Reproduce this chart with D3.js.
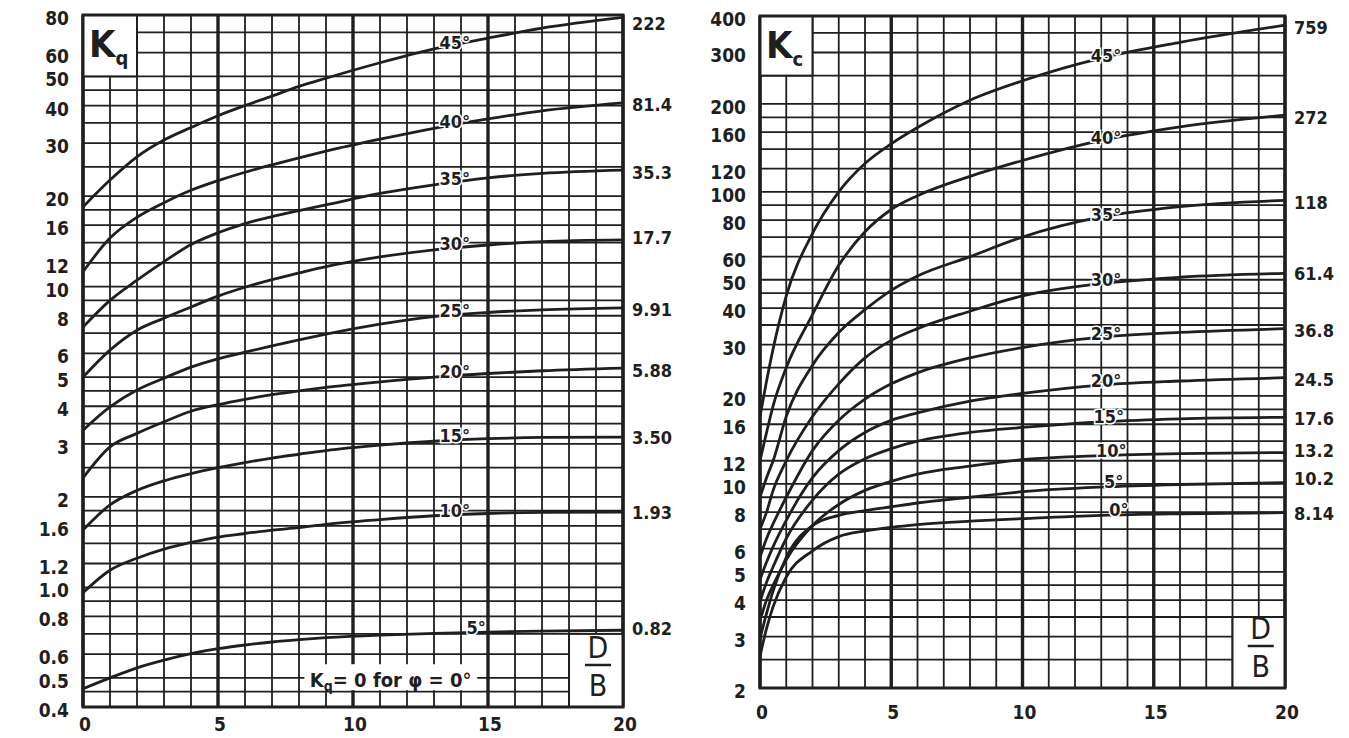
<!DOCTYPE html>
<html><head><meta charset="utf-8">
<script src="https://cdn.jsdelivr.net/npm/d3@7"></script>
<style>body{margin:0;background:#fff}svg{display:block}</style>
</head><body>
<svg id="c" width="1349" height="738"></svg>
<script>
// ---------- data ----------
const angles = ["45°","40°","35°","30°","25°","20°","15°","10°","5°","0°"];
// Kq panel (D/B values where curves were read)
const xq = [0,1,2,3,4,5,6,7,8,9,11,13,15,17,20];
const kq45 = [18.4,22.6,27,30.7,33.8,37,40,43,46.3,49.3,55.5,61.7,67,72.3,78.5];
const kq40 = [11.2,14.5,17,19,20.9,22.5,24.0,25.4,26.8,28.2,30.9,33.6,36.1,38.4,40.8];
const kq35 = [7.33,9.0,10.5,12.1,13.8,15.1,16.2,17.1,17.9,18.7,20.4,21.8,23.0,23.8,24.4];
const kq30 = [5.0,6.15,7.16,7.85,8.55,9.3,9.95,10.55,11.1,11.65,12.55,13.25,13.75,14.1,14.3];
const kq25 = [3.33,3.98,4.53,4.96,5.4,5.75,6.05,6.35,6.65,6.95,7.5,7.95,8.2,8.37,8.5];
const kq20 = [2.31,2.93,3.25,3.55,3.85,4.05,4.22,4.37,4.5,4.62,4.82,5.0,5.14,5.25,5.36];
const kq15 = [1.55,1.88,2.1,2.26,2.39,2.5,2.6,2.69,2.77,2.85,2.97,3.06,3.12,3.15,3.16];
const kq10 = [0.96,1.14,1.25,1.34,1.41,1.47,1.51,1.55,1.58,1.62,1.68,1.73,1.76,1.775,1.78];
const kq5  = [0.46,0.50,0.54,0.573,0.602,0.625,0.643,0.658,0.67,0.68,0.694,0.703,0.71,0.715,0.72];
const kqInf = ["222","81.4","35.3","17.7","9.91","5.88","3.50","1.93","0.82"];

// Kc panel
const xc = [0,0.25,0.5,1,2,3,4,5,6,8,10,13,16,20];
const kc45 = [17,22.5,29,44,72,100,125,146,166,206,240,287,325,372];
const kc40 = [12,15,18.5,25,38,56,73,87,97,113,128,150,167,183];
const kc35 = [9,10.5,12,17,25.5,33,39.5,46,51.5,60,70,82,89,93.5];
const kc30 = [7,8,9.5,12,17,22,27,31,34,39,44,48.5,51,52.6];
const kc25 = [5.6,6.5,7.3,9,13,16.5,19.5,22,24,27,29.3,31.8,33,34];
const kc20 = [4.7,5.4,6.1,7.5,10.5,13,15,16.5,17.5,19.2,20.4,21.8,22.5,23.1];
const kc15 = [3.95,4.6,5.2,6.5,8.8,10.8,12.2,13.2,14,15,15.6,16.3,16.7,16.9];
const kc10 = [3.4,4.0,4.5,5.5,7.2,8.5,9.5,10.2,10.8,11.5,12.1,12.5,12.7,12.8];
const kc5  = [2.95,3.6,4.3,5.6,7.2,7.8,8.1,8.35,8.6,9.0,9.4,9.75,9.95,10.1];
const kc0  = [2.57,3.2,3.8,4.8,5.9,6.6,6.9,7.1,7.25,7.45,7.6,7.8,7.9,7.97];
const kcInf = ["759","272","118","61.4","36.8","24.5","17.6","13.2","10.2","8.14"];

// axis ticks
const xTicks = [0,5,10,15,20];
const kqTickLabels = [80,60,50,40,30,20,16,12,10,8,6,5,4,3,2,1.6,1.2,1.0,0.8,0.6,0.5,0.4];
const kqGrid = [0.4,0.45,0.5,0.6,0.7,0.8,0.9,1.0,1.2,1.4,1.6,1.8,2,2.5,3,3.5,4,4.5,5,6,7,8,9,10,12,14,16,18,20,25,30,35,40,45,50,60,70,80];
const kcTickLabels = [400,300,200,160,120,100,80,60,50,40,30,20,16,12,10,8,6,5,4,3,2];
const kcGrid = [2,2.5,3,3.5,4,4.5,5,6,7,8,9,10,12,14,16,18,20,25,30,35,40,45,50,60,70,80,90,100,120,140,160,180,200,250,300,350,400];

// ---------- drawing ----------
const svg = d3.select("#c");
const INK = "#1f1f1f";
const TF = "'DejaVu Sans Condensed','DejaVu Sans',sans-serif";

function panel(o){
  const g = svg.append("g");
  const x = d3.scaleLinear().domain([0,20]).range([o.l,o.r]);
  const y = d3.scaleLog().domain([o.ymin,o.ymax]).range([o.b,o.t]);

  // grid - horizontal
  g.selectAll("line.h").data(o.grid).join("line")
    .attr("x1",o.l).attr("x2",o.r).attr("y1",d=>y(d)).attr("y2",d=>y(d))
    .attr("stroke",INK).attr("stroke-width",1.8);
  // grid - vertical
  g.selectAll("line.v").data(d3.range(0,21)).join("line")
    .attr("x1",d=>x(d)).attr("x2",d=>x(d)).attr("y1",o.t).attr("y2",o.b)
    .attr("stroke",INK).attr("stroke-width",d=>d%5===0?3.4:1.8);

  // symbol box (top-left) and D/B box (bottom-right)
  g.append("rect").attr("x",x(0)).attr("y",y(o.ymax)).attr("width",x(2)-x(0)).attr("height",y(o.symBottom)-y(o.ymax))
    .attr("fill","#fff").attr("stroke",INK).attr("stroke-width",2);
  g.append("rect").attr("x",x(18)).attr("y",y(o.dbTop)).attr("width",x(20)-x(18)).attr("height",y(o.ymin)-y(o.dbTop))
    .attr("fill","#fff").attr("stroke",INK).attr("stroke-width",2);

  // symbol text
  const st = g.append("text").attr("x",x(0)+6).attr("y",y(o.ymax)+42)
    .attr("font-family",TF).attr("font-size",38).attr("font-weight",600).attr("fill",INK);
  st.append("tspan").text("K");
  st.append("tspan").attr("font-size",20).attr("dy",8).text(o.sub);

  // D/B
  const cx = (x(18)+x(20))/2 + 2;
  g.append("text").attr("x",cx).attr("y",o.dbY).attr("text-anchor","middle")
    .attr("font-family",TF).attr("font-size",30).attr("fill",INK).text("D");
  g.append("line").attr("x1",cx-13).attr("x2",cx+13).attr("y1",o.dbY+7).attr("y2",o.dbY+7)
    .attr("stroke",INK).attr("stroke-width",2.5);
  g.append("text").attr("x",cx).attr("y",o.dbY+38).attr("text-anchor","middle")
    .attr("font-family",TF).attr("font-size",30).attr("fill",INK).text("B");

  // curves
  const line = d3.line().x(d=>x(d[0])).y(d=>y(d[1])).curve(d3.curveMonotoneX);
  o.series.forEach((s,i)=>{
    const pts = o.xs.map((xv,j)=>[xv,s[j]]);
    g.append("path").attr("d",line(pts)).attr("fill","none")
      .attr("stroke",INK).attr("stroke-width",2.8).attr("stroke-linejoin","round");
  });

  // curve labels
  o.series.forEach((s,i)=>{
    const lx = o.labX[i];
    const v = Math.exp(d3.scaleLinear().domain(o.xs).range(s.map(Math.log))(lx));
    g.append("text").attr("x",x(lx)).attr("y",y(v)+1)
      .attr("font-family",TF).attr("font-size",18).attr("font-weight",700).attr("fill",INK)
      .attr("stroke","#fff").attr("stroke-width",3).attr("paint-order","stroke")
      .text(o.names[i]);
  });

  // right end values
  o.series.forEach((s,i)=>{
    g.append("text").attr("x",o.r+9).attr("y",y(s[s.length-1])+o.endDy[i])
      .attr("dominant-baseline","central")
      .attr("font-family",TF).attr("font-size",18).attr("font-weight",700).attr("fill",INK)
      .text(o.inf[i]);
  });

  // y tick labels
  g.selectAll("text.yt").data(o.ticks).join("text")
    .attr("x",o.l-14).attr("y",d=>y(d)+3).attr("text-anchor","end").attr("dominant-baseline","central")
    .attr("font-family",TF).attr("font-size",19).attr("font-weight",700).attr("fill",INK)
    .text(d=> d===1 ? "1.0" : String(d));
  // x tick labels
  g.selectAll("text.xt").data(xTicks).join("text")
    .attr("x",d=>x(d)+2).attr("y",o.xLabY).attr("text-anchor","middle").attr("dominant-baseline","central")
    .attr("font-family",TF).attr("font-size",19).attr("font-weight",700).attr("fill",INK)
    .text(d=>d);

  // frame
  g.append("rect").attr("x",o.l).attr("y",o.t).attr("width",o.r-o.l).attr("height",o.b-o.t)
    .attr("fill","none").attr("stroke",INK).attr("stroke-width",3);
  return {g,x,y};
}

const left = panel({
  l:83,r:623,t:15,b:707,ymin:0.4,ymax:80,grid:kqGrid,ticks:kqTickLabels,
  sub:"q",symBottom:50,dbTop:0.7,dbY:658,xLabY:724,
  xs:xq,series:[kq45,kq40,kq35,kq30,kq25,kq20,kq15,kq10,kq5],
  names:angles.slice(0,9),inf:kqInf,
  labX:[13.2,13.2,13.2,13.2,13.2,13.2,13.2,13.2,14.2],
  endDy:[6,2,2,-2,2,2,0,0,-2]
});
// note on Kq for phi = 0 (white patch behind it, as in the original)
left.g.append("rect").attr("x",left.x(8.2)).attr("y",left.y(0.555))
  .attr("width",left.x(14.6)-left.x(8.2)).attr("height",left.y(0.455)-left.y(0.555)).attr("fill","#fff");
left.g.append("text").attr("x",left.x(8.4)).attr("y",left.y(0.465))
  .attr("font-family",TF).attr("font-size",20).attr("font-weight",700).attr("fill",INK)
  .call(t=>{ t.append("tspan").text("K"); t.append("tspan").attr("font-size",14).attr("dy",4).text("q");
             t.append("tspan").attr("dy",-4).text("= 0 for φ = 0°"); });

panel({
  l:760,r:1285,t:16,b:688,ymin:2,ymax:400,grid:kcGrid,ticks:kcTickLabels,
  sub:"c",symBottom:250,dbTop:3.5,dbY:639,xLabY:712,
  xs:xc,series:[kc45,kc40,kc35,kc30,kc25,kc20,kc15,kc10,kc5,kc0],
  names:angles,inf:kcInf,
  labX:[12.6,12.6,12.6,12.6,12.6,12.6,12.7,12.8,13.1,13.3],
  endDy:[2,2,2,0,2,2,1,-2,-4,1]
});
</script>
</body></html>
